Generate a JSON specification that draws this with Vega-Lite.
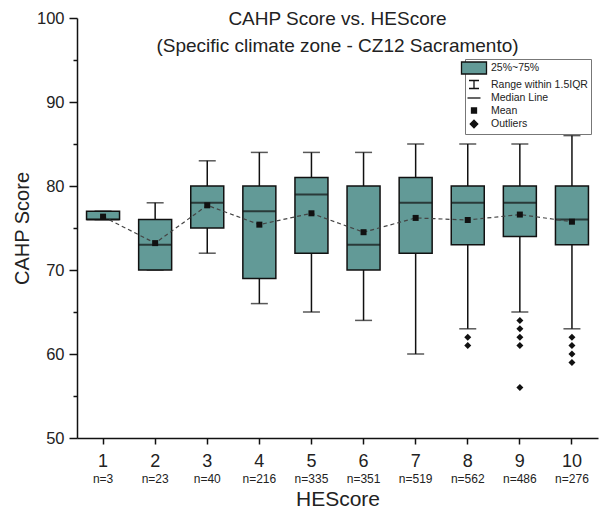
{
  "$schema": "https://vega.github.io/schema/vega-lite/v6.json",
  "width": 521,
  "height": 420,
  "autosize": {"type": "none"},
  "padding": {"left": 77, "top": 18, "right": 3, "bottom": 70},
  "background": "white",
  "config": {
    "font": "Liberation Sans",
    "view": {"stroke": null},
    "axis": {"domainColor": "#111", "domainWidth": 1.5, "tickColor": "#111", "tickWidth": 1.5, "grid": false, "labelColor": "#222", "titleColor": "#222", "labelFont": "Liberation Sans", "titleFont": "Liberation Sans", "titleFontWeight": "normal"}
  },
  "title": {
    "text": "CAHP Score vs. HEScore",
    "subtitle": "(Specific climate zone - CZ12 Sacramento)",
    "fontSize": 19, "subtitleFontSize": 19, "fontWeight": "normal",
    "color": "#222", "subtitleColor": "#222", "anchor": "middle",
    "offset": -46, "subtitlePadding": 8,
    "font": "Liberation Sans", "subtitleFont": "Liberation Sans"
  },
  "datasets": {
    "boxes": [
      {"HEScore": 1, "lower": 76, "q1": 76, "median": 76, "q3": 77, "upper": 77, "mean": 76.35, "nlab": "n=3"},
      {"HEScore": 2, "lower": 70, "q1": 70, "median": 73, "q3": 76, "upper": 78, "mean": 73.2, "nlab": "n=23"},
      {"HEScore": 3, "lower": 72, "q1": 75, "median": 78, "q3": 80, "upper": 83, "mean": 77.7, "nlab": "n=40"},
      {"HEScore": 4, "lower": 66, "q1": 69, "median": 77, "q3": 80, "upper": 84, "mean": 75.4, "nlab": "n=216"},
      {"HEScore": 5, "lower": 65, "q1": 72, "median": 79, "q3": 81, "upper": 84, "mean": 76.75, "nlab": "n=335"},
      {"HEScore": 6, "lower": 64, "q1": 70, "median": 73, "q3": 80, "upper": 84, "mean": 74.5, "nlab": "n=351"},
      {"HEScore": 7, "lower": 60, "q1": 72, "median": 78, "q3": 81, "upper": 85, "mean": 76.2, "nlab": "n=519"},
      {"HEScore": 8, "lower": 63, "q1": 73, "median": 78, "q3": 80, "upper": 85, "mean": 75.95, "nlab": "n=562"},
      {"HEScore": 9, "lower": 65, "q1": 74, "median": 78, "q3": 80, "upper": 85, "mean": 76.6, "nlab": "n=486"},
      {"HEScore": 10, "lower": 63, "q1": 73, "median": 76, "q3": 80, "upper": 86, "mean": 75.75, "nlab": "n=276"}
    ],
    "outliers": [
      {"HEScore": 8, "value": 62}, {"HEScore": 8, "value": 61},
      {"HEScore": 9, "value": 64}, {"HEScore": 9, "value": 63}, {"HEScore": 9, "value": 62}, {"HEScore": 9, "value": 61}, {"HEScore": 9, "value": 56},
      {"HEScore": 10, "value": 62}, {"HEScore": 10, "value": 61}, {"HEScore": 10, "value": 60}, {"HEScore": 10, "value": 59}
    ],
    "legend": [
      {"item": "25%~75%"}, {"item": "Range within 1.5IQR"}, {"item": "Median Line"}, {"item": "Mean"}, {"item": "Outliers"}
    ]
  },
  "layer": [
    {
      "data": {"name": "boxes"},
      "mark": {"type": "rule", "color": "#111", "strokeWidth": 1.5},
      "encoding": {
        "x": {"field": "HEScore", "type": "ordinal", "title": "HEScore", "scale": {"paddingInner": 0, "paddingOuter": 0},
          "axis": {"labelAngle": 0, "labelFontSize": 18, "titleFontSize": 21, "tickSize": 6, "labelPadding": 8, "titlePadding": 18}},
        "y": {"field": "lower", "type": "quantitative", "title": "CAHP Score", "scale": {"domain": [50, 100], "nice": false, "zero": false},
          "axis": {"values": [50, 55, 60, 65, 70, 75, 80, 85, 90, 95, 100], "labelExpr": "datum.value % 10 ? '' : datum.label",
            "tickSize": {"condition": {"test": "datum.value % 10 != 0", "value": 4}, "value": 8},
            "labelFontSize": 16.5, "titleFontSize": 20, "labelPadding": 5, "titlePadding": 4, "labelOverlap": false}},
        "y2": {"field": "upper"}
      }
    },
    {
      "data": {"name": "boxes"},
      "mark": {"type": "tick", "color": "#111", "thickness": 1.5, "size": 17},
      "encoding": {
        "x": {"field": "HEScore", "type": "ordinal", "title": "HEScore"},
        "y": {"field": "lower", "type": "quantitative", "title": "CAHP Score"}
      }
    },
    {
      "data": {"name": "boxes"},
      "mark": {"type": "tick", "color": "#111", "thickness": 1.5, "size": 17},
      "encoding": {
        "x": {"field": "HEScore", "type": "ordinal", "title": "HEScore"},
        "y": {"field": "upper", "type": "quantitative", "title": "CAHP Score"}
      }
    },
    {
      "data": {"name": "boxes"},
      "mark": {"type": "bar", "size": 33, "fill": "#629a97", "stroke": "#111", "strokeWidth": 1.5},
      "encoding": {
        "x": {"field": "HEScore", "type": "ordinal", "title": "HEScore"},
        "y": {"field": "q1", "type": "quantitative", "title": "CAHP Score"},
        "y2": {"field": "q3"}
      }
    },
    {
      "data": {"name": "boxes"},
      "mark": {"type": "tick", "color": "#111", "thickness": 2, "size": 33},
      "encoding": {
        "x": {"field": "HEScore", "type": "ordinal", "title": "HEScore"},
        "y": {"field": "median", "type": "quantitative", "title": "CAHP Score"}
      }
    },
    {
      "data": {"name": "boxes"},
      "mark": {"type": "line", "color": "#444", "strokeWidth": 1.2, "strokeDash": [4, 3]},
      "encoding": {
        "x": {"field": "HEScore", "type": "ordinal", "title": "HEScore"},
        "y": {"field": "mean", "type": "quantitative", "title": "CAHP Score"}
      }
    },
    {
      "data": {"name": "boxes"},
      "mark": {"type": "point", "shape": "square", "filled": true, "size": 36, "color": "#111", "opacity": 1},
      "encoding": {
        "x": {"field": "HEScore", "type": "ordinal", "title": "HEScore"},
        "y": {"field": "mean", "type": "quantitative", "title": "CAHP Score"}
      }
    },
    {
      "data": {"name": "outliers"},
      "mark": {"type": "point", "shape": "diamond", "filled": true, "size": 49, "color": "#111", "opacity": 1},
      "encoding": {
        "x": {"field": "HEScore", "type": "ordinal", "title": "HEScore"},
        "y": {"field": "value", "type": "quantitative", "title": "CAHP Score"}
      }
    },
    {
      "data": {"name": "boxes"},
      "mark": {"type": "text", "baseline": "top", "dy": 36, "fontSize": 12, "color": "#222"},
      "encoding": {
        "x": {"field": "HEScore", "type": "ordinal", "title": "HEScore"},
        "y": {"datum": 50, "type": "quantitative", "title": "CAHP Score"},
        "text": {"field": "nlab"}
      }
    },
    {
      "data": {"name": "legend"},
      "mark": {"type": "point", "opacity": 0, "filled": true},
      "encoding": {
        "shape": {"field": "item", "type": "nominal",
          "scale": {"domain": ["25%~75%", "Range within 1.5IQR", "Median Line", "Mean", "Outliers"],
            "range": ["M-2.5,-1.2H2.5V1.2H-2.5Z", "M-1,-0.8H1M0,-0.8V0.8M-1,0.8H1", "M-1.3,0H1.3", "M-0.5,-0.5H0.5V0.5H-0.5Z", "M0,-0.75L0.75,0L0,0.75L-0.75,0Z"]},
          "legend": {"title": null, "orient": "none", "legendX": 388, "legendY": 41, "strokeColor": "#777", "fillColor": "white", "padding": 3,
            "symbolSize": 100, "labelFontSize": 10.5, "labelOffset": 11, "rowPadding": 0.5, "labelFont": "Liberation Sans", "labelColor": "#222",
            "encoding": {"symbols": {
              "fill": {"condition": {"test": "datum.value == '25%~75%'", "value": "#629a97"}, "value": "#111"},
              "stroke": {"value": "#111"}, "opacity": {"value": 1}, "strokeWidth": {"value": 1.3}}}}
        }
      }
    }
  ]
}
